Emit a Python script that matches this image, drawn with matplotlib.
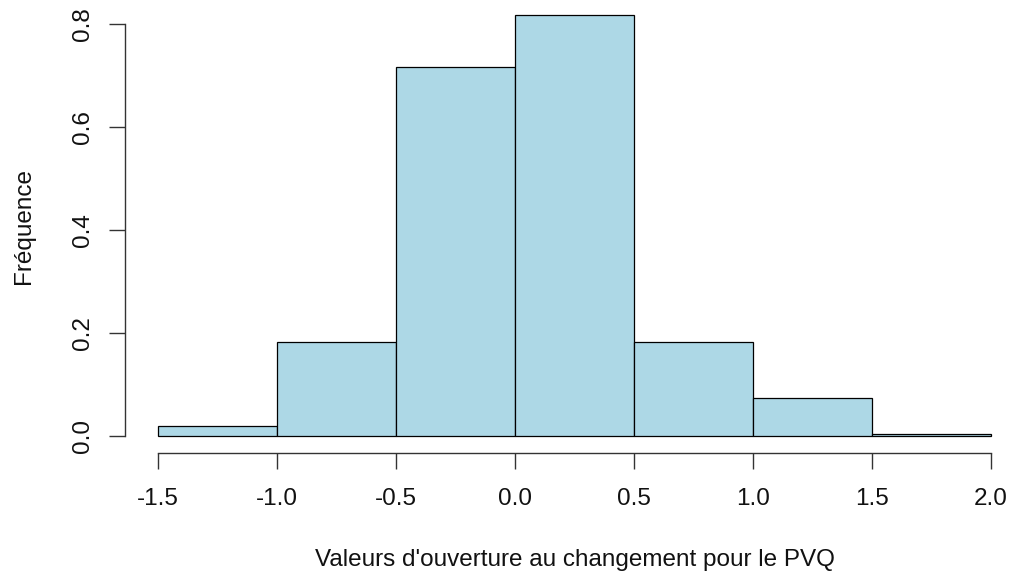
import matplotlib.pyplot as plt

plt.rcParams['font.family'] = ['Liberation Sans', 'DejaVu Sans']
plt.rcParams['axes.unicode_minus'] = False

# bin edges and density values
bin_edges = [-1.5, -1.0, -0.5, 0.0, 0.5, 1.0, 1.5, 2.0]
density = [0.02, 0.182, 0.717, 0.818, 0.182, 0.075, 0.004]
x_ticks = [-1.5, -1.0, -0.5, 0.0, 0.5, 1.0, 1.5, 2.0]
x_tick_labels = ['-1.5', '-1.0', '-0.5', '0.0', '0.5', '1.0', '1.5', '2.0']
y_ticks = [0.0, 0.2, 0.4, 0.6, 0.8]
y_tick_labels = ['0.0', '0.2', '0.4', '0.6', '0.8']

fs = 17.5

fig = plt.figure(figsize=(10.13, 5.75), dpi=100)
W, H = 1013, 575
left, right, bottom, top = 125, 1024, 453, -2
ax = fig.add_axes([left / W, (H - bottom) / H, (right - left) / W, (bottom - top) / H])

widths = [b - a for a, b in zip(bin_edges[:-1], bin_edges[1:])]
ax.bar(bin_edges[:-1], density, width=widths, align='edge',
       color='#ADD8E6', edgecolor='black', linewidth=0.9)

span_x = bin_edges[-1] - bin_edges[0]
ax.set_xlim(bin_edges[0] - 0.04 * span_x, bin_edges[-1] + 0.04 * span_x)
ymax = max(density)
ax.set_ylim(-0.04 * ymax, ymax * 1.04)

for s in ['top', 'right']:
    ax.spines[s].set_visible(False)
ax.spines['bottom'].set_bounds(x_ticks[0], x_ticks[-1])
ax.spines['left'].set_bounds(y_ticks[0], y_ticks[-1])
for s in ['bottom', 'left']:
    ax.spines[s].set_color('#333333')
    ax.spines[s].set_linewidth(1.0)

ax.set_xticks(x_ticks)
ax.set_xticklabels(x_tick_labels)
ax.set_yticks(y_ticks)
ax.set_yticklabels(y_tick_labels, rotation=90, va='center')
ax.tick_params(axis='both', length=11.5, width=1.0, color='#333333',
               labelsize=fs, labelcolor='#111111')
ax.tick_params(axis='x', pad=14)
ax.tick_params(axis='y', pad=11)

ax.set_xlabel("Valeurs d'ouverture au changement pour le PVQ", fontsize=fs, color='#111111')
ax.set_ylabel('Fréquence', fontsize=fs, color='#111111')
ax.xaxis.set_label_coords(0.5, -0.248)
ax.yaxis.set_label_coords(-0.1123, 0.5)
ax.xaxis.label.set_va('baseline')
ax.yaxis.label.set_va('center')

fig.savefig('out.png', dpi=100)
